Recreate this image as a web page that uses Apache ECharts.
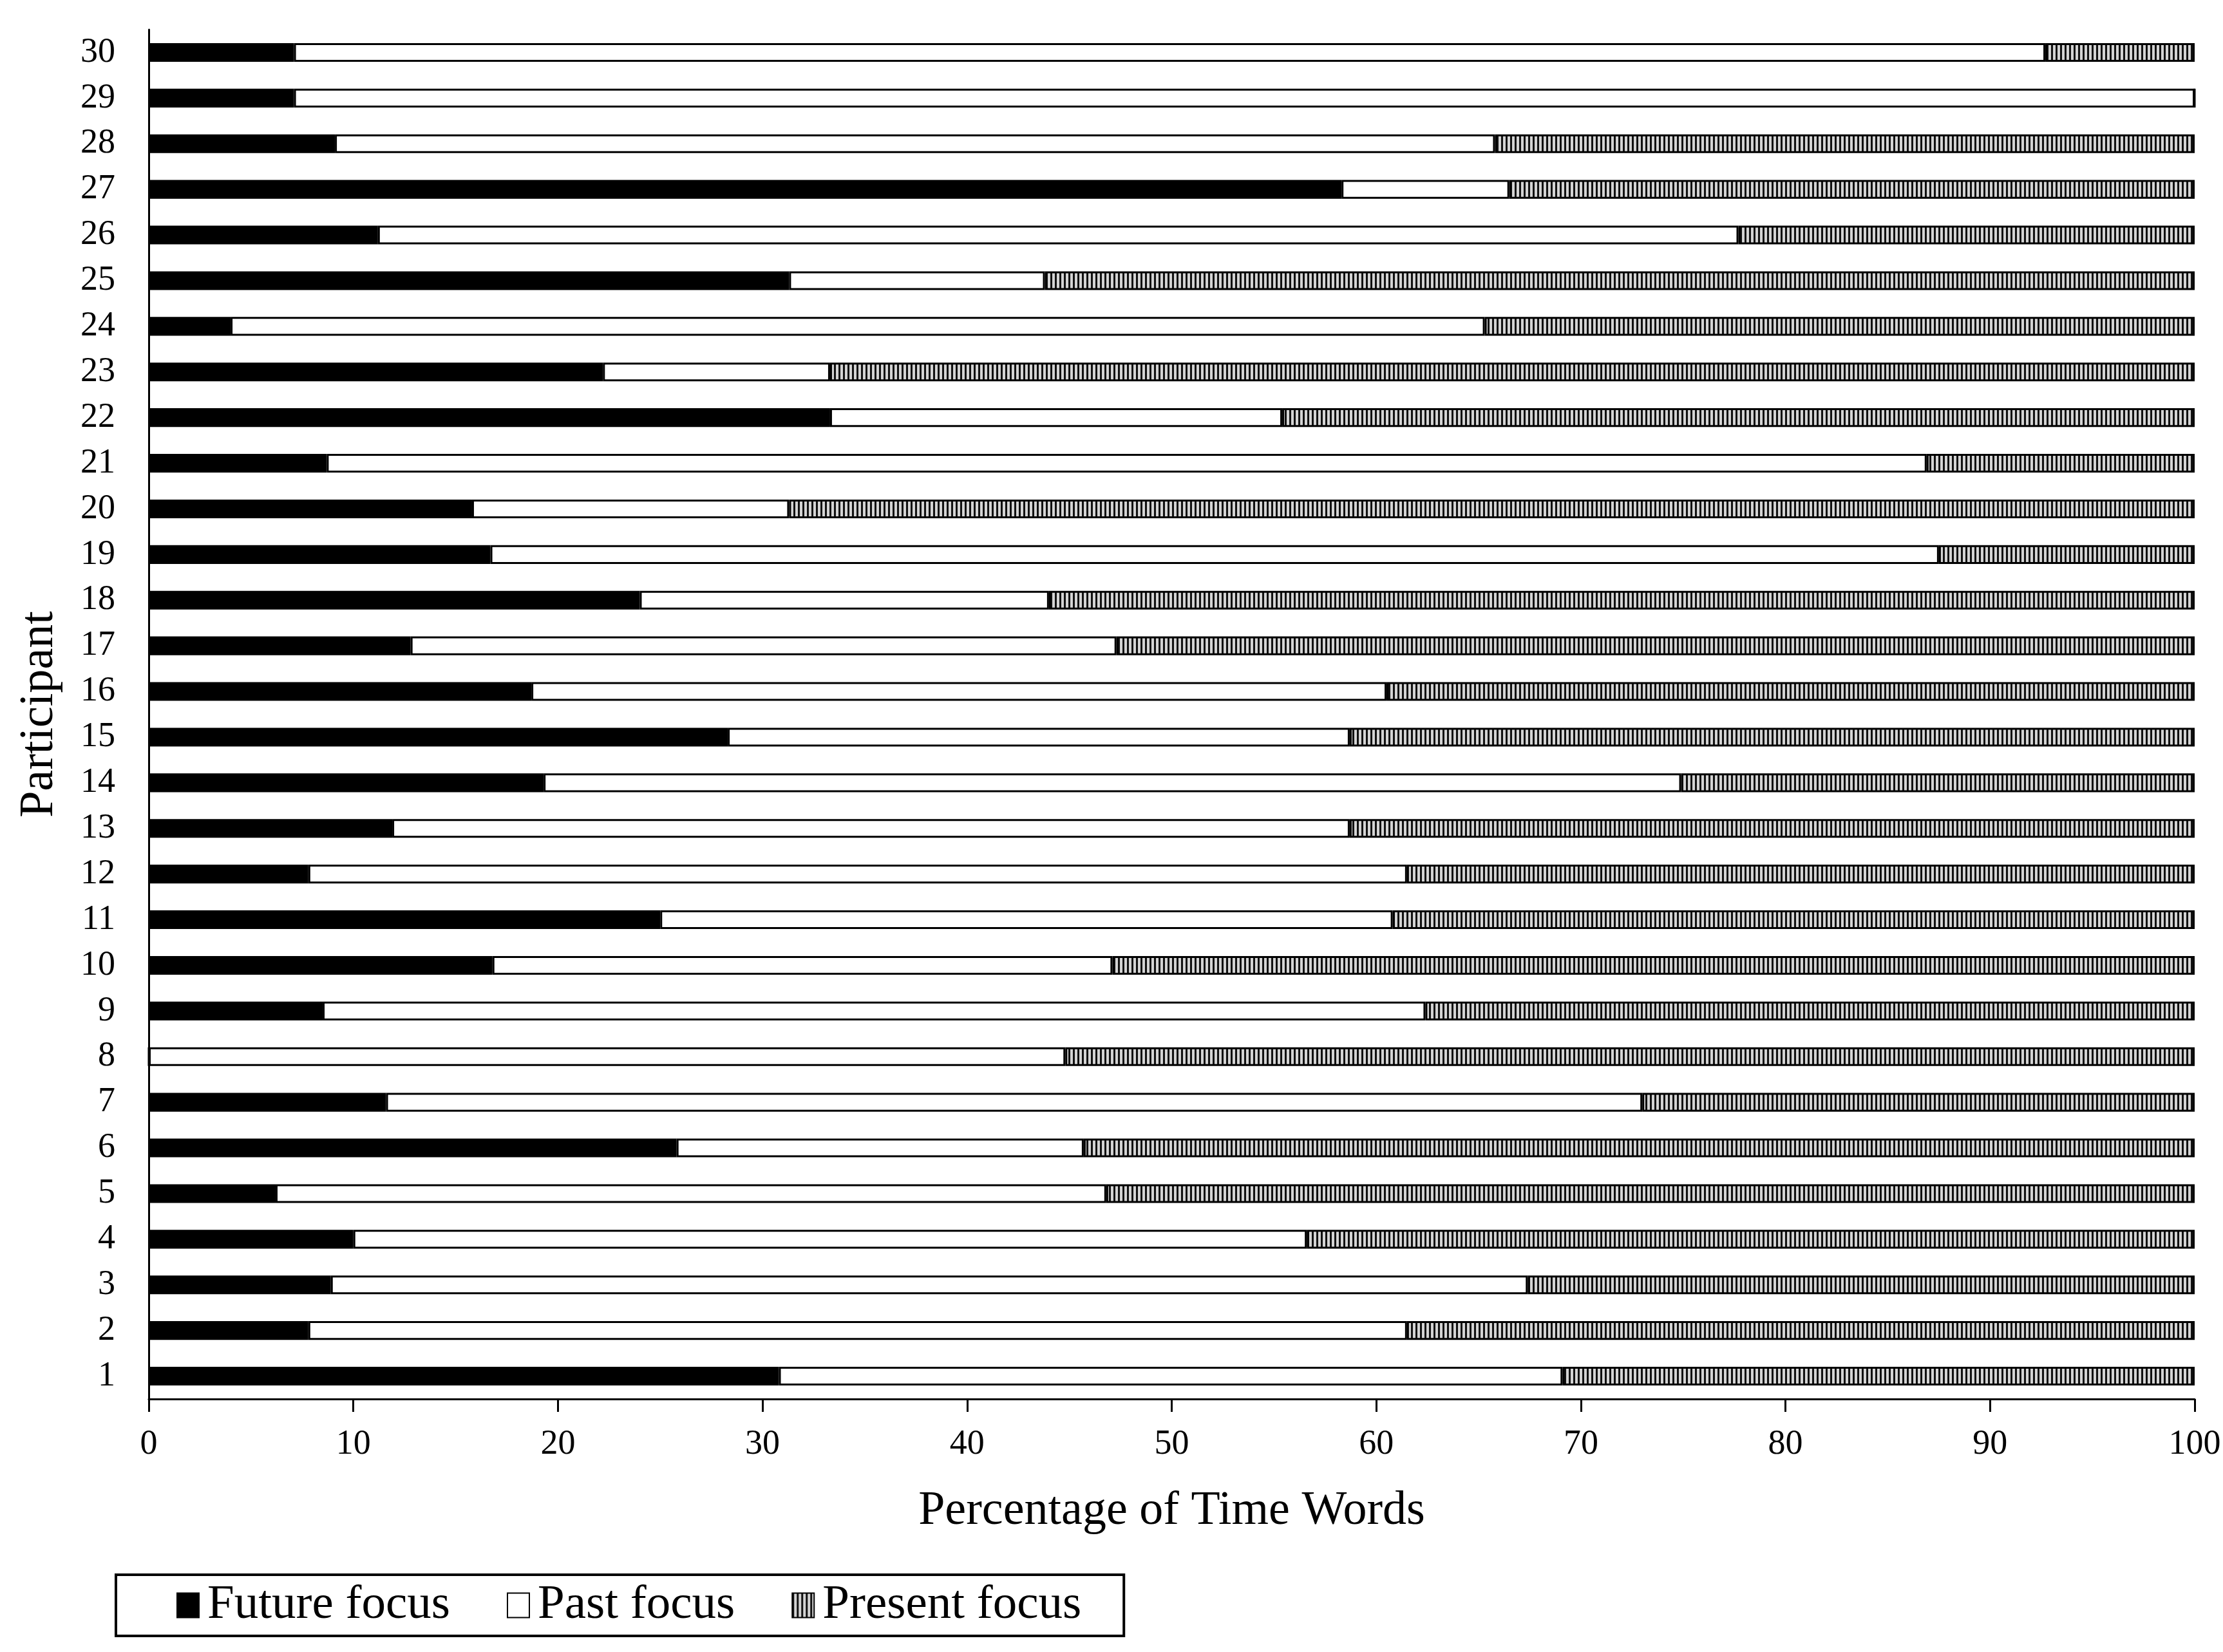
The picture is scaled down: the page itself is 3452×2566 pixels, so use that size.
<html>
<head>
    <meta charset="utf-8">
    <script src="https://cdn.jsdelivr.net/npm/echarts@6/dist/echarts.min.js"></script>
    <title>Time words</title>
    <style>
        html, body { margin: 0; padding: 0; background: #fff; }
    </style>
</head>
<body>
    <div id="main" style="width: 3452px; height: 2566px;"></div>
    <script>
        // participants 1..30 (bottom to top)
        const participants = ['1', '2', '3', '4', '5', '6', '7', '8', '9', '10',
            '11', '12', '13', '14', '15', '16', '17', '18', '19', '20',
            '21', '22', '23', '24', '25', '26', '27', '28', '29', '30'];
        const futureFocus = [30.8, 7.8, 8.9, 10.0, 6.2, 25.8, 11.6, 0, 8.5, 16.8,
            25.0, 7.8, 11.9, 19.3, 28.3, 18.7, 12.8, 24.0, 16.7, 15.8,
            8.7, 33.3, 22.2, 4.0, 31.3, 11.2, 58.3, 9.1, 7.1, 7.1];
        const pastFocus = [38.3, 53.7, 58.5, 46.6, 40.6, 19.9, 61.4, 44.8, 53.9, 30.3,
            35.8, 53.7, 46.8, 55.6, 30.4, 41.8, 34.5, 20.0, 70.8, 15.5,
            78.2, 22.1, 11.1, 61.3, 12.5, 66.5, 8.2, 56.7, 92.9, 85.6];
        const presentFocus = [30.9, 38.5, 32.6, 43.4, 53.2, 54.3, 27.0, 55.2, 37.6, 52.9,
            39.2, 38.5, 41.3, 25.1, 41.3, 39.5, 52.7, 56.0, 12.5, 68.7,
            13.1, 44.6, 66.7, 34.7, 56.2, 22.3, 33.5, 34.2, 0, 7.3];
        const xTicks = [0, 10, 20, 30, 40, 50, 60, 70, 80, 90, 100];

        const fontName = '"Liberation Serif", "DejaVu Serif", serif';

        // vertical stripe fill for "Present focus"
        const stripe = document.createElement('canvas');
        stripe.width = 7;
        stripe.height = 10;
        const sctx = stripe.getContext('2d');
        sctx.fillStyle = '#d4d4d4';
        sctx.fillRect(0, 0, 7, 10);
        sctx.fillStyle = '#111';
        sctx.fillRect(0, 0, 3, 10);

        const barStyle = (fill) => ({
            color: fill,
            borderColor: '#000',
            borderWidth: 3
        });

        const chart = echarts.init(document.getElementById('main'), null, { renderer: 'canvas' });
        chart.setOption({
            backgroundColor: '#fff',
            animation: false,
            grid: {
                left: 231,
                right: 44,
                top: 46,
                bottom: 393
            },
            legend: {
                left: 180,
                top: 2446,
                orient: 'horizontal',
                icon: 'rect',
                padding: [10, 66, 10, 94],
                itemGap: 88,
                itemWidth: 34,
                itemHeight: 38,
                borderColor: '#000',
                borderWidth: 4,
                textStyle: { fontFamily: fontName, fontSize: 75, color: '#000', padding: [0, 0, 0, 8] },
                data: ['Future focus', 'Past focus', 'Present focus']
            },
            xAxis: {
                type: 'value',
                min: 0,
                max: 100,
                interval: 10,
                name: 'Percentage of Time Words',
                nameLocation: 'middle',
                nameGap: 138,
                nameTextStyle: { fontFamily: fontName, fontSize: 74, color: '#000' },
                axisLine: { show: true, lineStyle: { color: '#000', width: 3 } },
                axisTick: { show: true, length: 20, lineStyle: { color: '#000', width: 3 } },
                axisLabel: {
                    margin: 44,
                    fontFamily: fontName,
                    fontSize: 54,
                    color: '#000',
                    formatter: (v) => xTicks.includes(v) ? String(v) : ''
                },
                splitLine: { show: false }
            },
            yAxis: {
                type: 'category',
                data: participants,
                name: 'Participant',
                nameLocation: 'middle',
                nameGap: 132,
                nameTextStyle: { fontFamily: fontName, fontSize: 74, color: '#000' },
                axisLine: { show: true, lineStyle: { color: '#000', width: 3 } },
                axisTick: { show: false },
                axisLabel: {
                    margin: 52,
                    fontFamily: fontName,
                    fontSize: 54,
                    color: '#000'
                }
            },
            series: [
                {
                    name: 'Future focus',
                    type: 'bar',
                    stack: 'all',
                    barWidth: '41%',
                    itemStyle: barStyle('#000'),
                    data: futureFocus
                },
                {
                    name: 'Past focus',
                    type: 'bar',
                    stack: 'all',
                    itemStyle: barStyle('#fff'),
                    data: pastFocus
                },
                {
                    name: 'Present focus',
                    type: 'bar',
                    stack: 'all',
                    itemStyle: barStyle({ image: stripe, repeat: 'repeat' }),
                    data: presentFocus
                }
            ]
        });
    </script>
</body>
</html>
